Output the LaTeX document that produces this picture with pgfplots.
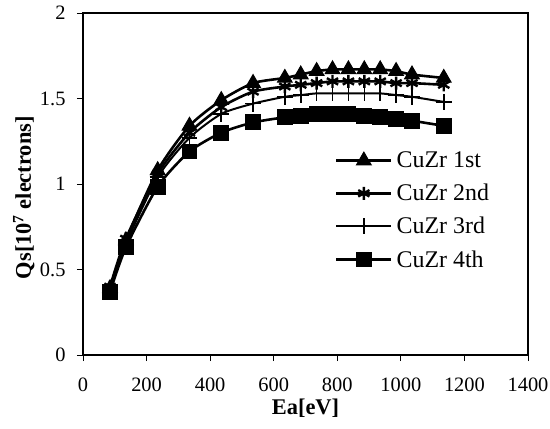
\documentclass[border=0pt]{standalone}
\usepackage{fontspec}
\setmainfont{Liberation Serif}
\usepackage{pgfplots}
\pgfplotsset{compat=1.18}
\usetikzlibrary{calc}

\begin{document}
\begin{tikzpicture}
\begin{axis}[
  scale only axis,
  width=445bp, height=342bp,
  xmin=0, xmax=1400, ymin=0, ymax=2,
  xtick={0,200,...,1400},
  ytick={0,0.5,1,1.5,2},
  yticklabels={0,0.5,1,1.5,2},
  tick align=outside,
  tick pos=left,
  major tick length=6bp,
  axis line style={line width=1.2pt},
  every tick/.style={black, line width=1pt},
  /pgf/number format/assume math mode=true,
  /pgf/number format/1000 sep={},
  tick label style={font=\fontsize{20.5}{24}\selectfont},
  xticklabel style={yshift=-13bp},
  yticklabel style={xshift=-8bp},
  xlabel={\textbf{Ea[eV]}},
  ylabel={\textbf{Qs[10\textsuperscript{7} electrons]}},
  label style={font=\fontsize{22.5}{26}\selectfont},
  xlabel style={at={(axis description cs:0.5,-0.155)}, anchor=center},
  ylabel style={at={(axis description cs:-0.133,0.46)}, anchor=center},
  legend style={draw=none, fill=none, inner sep=0pt, outer sep=0pt,
    at={(axis cs:793,1.205)}, anchor=north west,
    font=\fontsize{24}{28}\selectfont, row sep=9bp, column sep=1bp,
    nodes={inner sep=3bp}},
  legend cell align=left,
  legend image code/.code={\draw[mark repeat=2, mark phase=2]
    plot coordinates {(0bp,0bp) (27.5bp,0bp) (55bp,0bp)};},
  every axis plot/.append style={black, line width=2.6pt, smooth, tension=0.4,
    mark options={solid, fill=black, line width=1pt}},
]
\coordinate (ll) at (rel axis cs:0,0);
\coordinate (ur) at (rel axis cs:1,1);

\addplot[mark=triangle*, mark size=8.5] coordinates {
 (85,0.39) (135,0.67) (235,1.08) (335,1.34) (435,1.49) (535,1.59) (635,1.62) (685,1.64)
 (735,1.66) (785,1.67) (835,1.67) (885,1.67) (935,1.67) (985,1.66) (1035,1.64) (1135,1.62)
};
\addlegendentry{CuZr 1st}

\addplot[mark=asterisk, mark size=6.5, mark options={line width=2.4pt}] coordinates {
 (85,0.40) (135,0.68) (235,1.06) (335,1.30) (435,1.45) (535,1.54) (635,1.57) (685,1.58)
 (735,1.59) (785,1.60) (835,1.60) (885,1.60) (935,1.60) (985,1.59) (1035,1.59) (1135,1.58)
};
\addlegendentry{CuZr 2nd}

\addplot[mark=+, mark size=8, mark options={line width=1.6pt}, line width=2pt] coordinates {
 (85,0.39) (135,0.65) (235,1.04) (335,1.27) (435,1.41) (535,1.47) (635,1.51) (685,1.52)
 (735,1.53) (785,1.53) (835,1.53) (885,1.53) (935,1.53) (985,1.52) (1035,1.51) (1135,1.48)
};
\addlegendentry{CuZr 3rd}

\addplot[mark=square*, mark size=7.5] coordinates {
 (85,0.37) (135,0.63) (235,0.985) (335,1.19) (435,1.30) (535,1.36) (635,1.39) (685,1.40)
 (735,1.41) (785,1.41) (835,1.41) (885,1.40) (935,1.39) (985,1.38) (1035,1.37) (1135,1.34)
};
\addlegendentry{CuZr 4th}
\end{axis}
\pgfresetboundingbox
\path[use as bounding box] ($(ll)+(-83bp,-74bp)$) rectangle ($(ur)+(22bp,13bp)$);
\end{tikzpicture}
\end{document}
